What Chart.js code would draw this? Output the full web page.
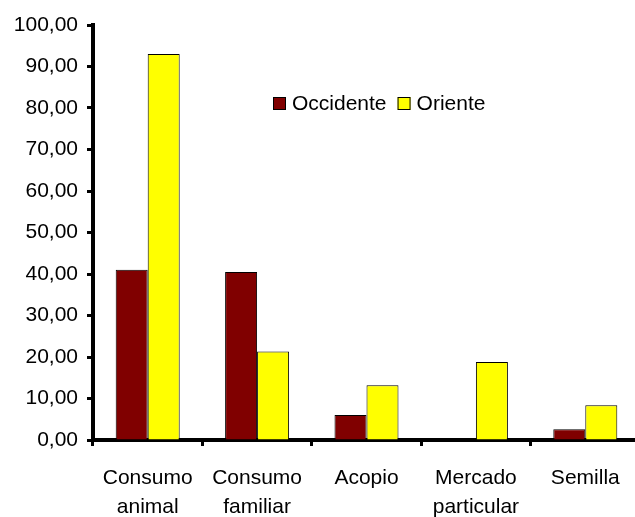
<!DOCTYPE html>
<html>
<head>
<meta charset="utf-8">
<script src="https://cdn.jsdelivr.net/npm/chart.js@4/dist/chart.umd.min.js"></script>
<style>
  html, body { margin: 0; padding: 0; background: #fff; overflow: hidden; }
  #wrap { width: 635px; height: 517px; overflow: hidden; }
  canvas { display: block; }
</style>
</head>
<body>
<div id="wrap"><canvas id="c" width="645" height="517"></canvas></div>
<script>
// Destino de la producción por región (%)
const categories = [
  ["Consumo", "animal"],
  ["Consumo", "familiar"],
  "Acopio",
  ["Mercado", "particular"],
  "Semilla"
];
const occidente = [41.0, 40.5, 6.0, 0.0, 2.6];
const oriente   = [93.0, 21.3, 13.2, 18.8, 8.4];
const seriesNames = ["Occidente", "Oriente"];

const FONT = "'Liberation Sans', Arial, sans-serif";
const fmt = v => v.toFixed(2).replace('.', ',');

// Leyenda dibujada dentro del área del gráfico
const innerLegend = {
  id: 'innerLegend',
  afterDraw(chart) {
    const ctx = chart.ctx;
    ctx.save();
    ctx.font = '21px ' + FONT;
    ctx.textBaseline = 'middle';
    ctx.textAlign = 'left';
    let x = 273;
    const yMid = 104;
    chart.data.datasets.forEach(ds => {
      ctx.fillStyle = ds.backgroundColor;
      ctx.fillRect(x, yMid - 7, 13, 13);
      ctx.lineWidth = 1;
      ctx.strokeStyle = '#000';
      ctx.strokeRect(x + 0.5, yMid - 6.5, 12, 12);
      ctx.fillStyle = '#000';
      ctx.fillText(ds.label, x + 19, yMid);
      x += 19 + ctx.measureText(ds.label).width + 11;
    });
    ctx.restore();
  }
};

new Chart(document.getElementById('c'), {
  type: 'bar',
  data: {
    labels: categories,
    datasets: [
      { label: seriesNames[0], data: occidente, backgroundColor: '#800000', borderColor: '#000', borderWidth: 1 },
      { label: seriesNames[1], data: oriente, backgroundColor: '#FFFF00', borderColor: '#000', borderWidth: 1 }
    ]
  },
  options: {
    responsive: false,
    animation: false,
    layout: { padding: { top: 25, right: 5, left: 0, bottom: 0 } },
    datasets: { bar: { categoryPercentage: 0.585, barPercentage: 1.0 } },
    plugins: { legend: { display: false }, tooltip: { enabled: false } },
    scales: {
      x: {
        offset: true,
        grid: {
          offset: true, drawOnChartArea: false, drawTicks: true,
          tickLength: 6, tickWidth: 3, tickColor: '#000'
        },
        border: { display: true, width: 4, color: '#000' },
        ticks: {
          color: '#000', padding: 18, maxRotation: 0, autoSkip: false,
          font: { family: FONT, size: 21, lineHeight: 1.38 }
        },
        afterFit(scale) { scale.height = 77; }
      },
      y: {
        min: 0, max: 100,
        ticks: {
          stepSize: 10, color: '#000', padding: 9,
          font: { family: FONT, size: 21 },
          callback: v => fmt(v)
        },
        grid: {
          drawOnChartArea: false, drawTicks: true,
          tickLength: 6, tickWidth: 3, tickColor: '#000'
        },
        border: { display: true, width: 4, color: '#000' },
        afterFit(scale) { scale.width = 93; }
      }
    }
  },
  plugins: [innerLegend]
});
</script>
</body>
</html>
